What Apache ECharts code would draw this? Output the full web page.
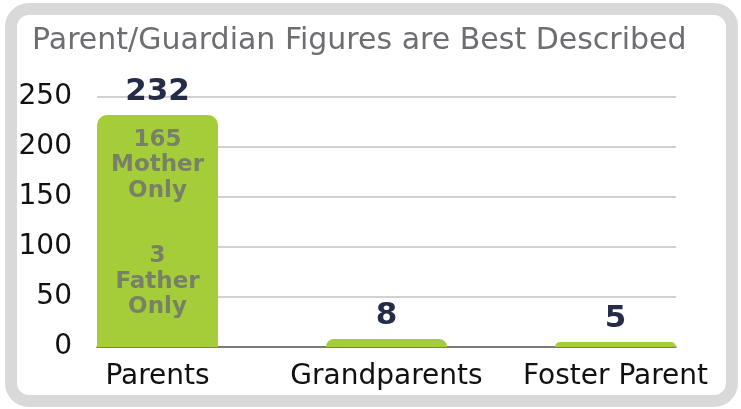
<!DOCTYPE html>
<html>
<head>
<meta charset="utf-8">
<script src="https://cdn.jsdelivr.net/npm/echarts@6/dist/echarts.min.js"></script>
<style>
  html, body { margin: 0; padding: 0; background: #fff; }
  #chart { width: 741px; height: 409px; }
</style>
</head>
<body>
<div id="chart"></div>
<script>
// data
var categories = ["Parents", "Grandparents", "Foster Parent"];
var totals = [232, 8, 5];
var motherOnly = [165, null, null];
var fatherOnly = [3, null, null];
var yTicks = [0, 50, 100, 150, 200, 250];

var chart = echarts.init(document.getElementById("chart"));

var barData = [];
for (var i = 0; i < categories.length; i++) {
    barData.push([i, totals[i]]);
}
var noteData = [];
for (var i = 0; i < categories.length; i++) {
    if (motherOnly[i] != null) noteData.push([i, totals[i], motherOnly[i], fatherOnly[i]]);
}

var option = {
    backgroundColor: "#fff",
    animation: false,
    graphic: [{
        type: "rect",
        z: -10,
        shape: { x: 11, y: 9, width: 721, height: 392, r: 18 },
        style: { fill: "none", stroke: "#d9d9d9", lineWidth: 12 }
    }],
    title: {
        text: "Parent/Guardian Figures are Best Described",
        left: 27,
        top: 21,
        textStyle: { fontFamily: "DejaVu Sans", fontSize: 30, fontWeight: "normal", color: "#6d6e71" }
    },
    grid: { left: 97, right: 65, top: 97, bottom: 62 },
    xAxis: {
        type: "value",
        min: -0.2642,
        max: 2.2642,
        splitLine: { show: false },
        axisTick: { show: false },
        axisLine: { show: true, lineStyle: { color: "#5f5f5f", width: 1.5 } },
        axisLabel: {
            customValues: [0, 1, 2],
            formatter: function (v) { return categories[Math.round(v)]; },
            margin: 16,
            fontFamily: "DejaVu Sans",
            fontSize: 28,
            color: "#111"
        }
    },
    yAxis: {
        type: "value",
        min: yTicks[0],
        max: yTicks[yTicks.length - 1],
        interval: 50,
        axisLine: { show: false },
        axisTick: { show: false },
        splitLine: { lineStyle: { color: "#c2c2c2", width: 1.5 } },
        axisLabel: { margin: 25, fontFamily: "DejaVu Sans", fontSize: 28, color: "#111" }
    },
    series: [
        {
            type: "bar",
            data: barData,
            barWidth: 121,
            itemStyle: { color: "#a5cd3a", borderRadius: [10, 10, 0, 0] },
            label: {
                show: true,
                position: "top",
                distance: 8,
                formatter: function (p) { return p.value[1]; },
                fontFamily: "DejaVu Sans",
                fontWeight: "bold",
                fontSize: 31,
                color: "#262c48"
            }
        },
        {
            type: "scatter",
            data: noteData,
            symbolSize: 0,
            silent: true,
            label: {
                show: true,
                position: "bottom",
                distance: 12,
                formatter: function (p) {
                    return "{n|" + p.value[2] + "}\n{n|Mother}\n{n|Only}\n{g| }\n{n|" + p.value[3] + "}\n{n|Father}\n{n|Only}";
                },
                rich: {
                    n: { fontFamily: "DejaVu Sans", fontWeight: "bold", fontSize: 23, lineHeight: 25.5, color: "#6d6e71", align: "center" },
                    g: { fontSize: 10, lineHeight: 40 }
                }
            }
        }
    ]
};
chart.setOption(option);
</script>
</body>
</html>
